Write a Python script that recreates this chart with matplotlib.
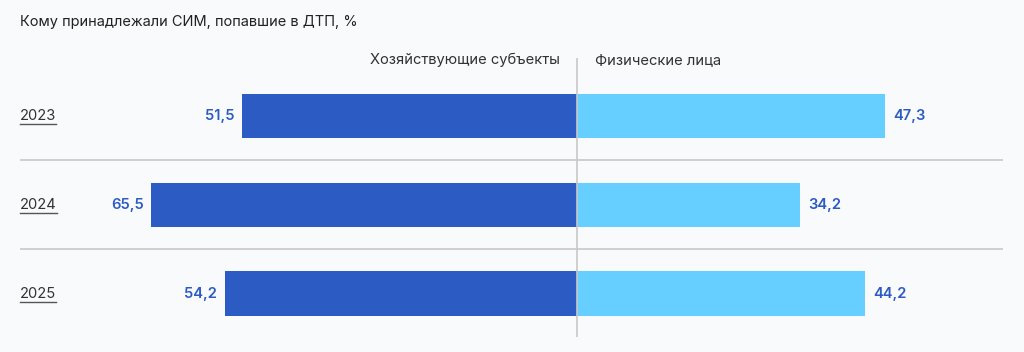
import matplotlib.pyplot as plt
import matplotlib.transforms as mtransforms
from matplotlib.lines import Line2D

plt.rcParams['font.family'] = ['Inter', 'DejaVu Sans']

# data
years = ['2023', '2024', '2025']
business = [51.5, 65.5, 54.2]
persons = [47.3, 34.2, 44.2]
title = 'Кому принадлежали СИМ, попавшие в ДТП, %'
left_label = 'Хозяйствующие субъекты'
right_label = 'Физические лица'

dark = '#2d5bc4'
light = '#66cfff'
bg = '#f9fafb'

fig = plt.figure(figsize=(10.24, 3.52), dpi=100, facecolor=bg)
ax = fig.add_axes([20 / 1024, 1 - 337 / 352, (1003 - 20) / 1024, (337 - 58) / 352])
ax.set_facecolor(bg)

ypos = list(range(len(years)))
ax.barh(ypos, [-v for v in business], height=0.5, color=dark)
ax.barh(ypos, persons, height=0.5, color=light)

ax.set_xlim(-85.7, 65.5)
ax.set_ylim(2.49, -0.654)

# separators and center line
for s in [0.5, 1.5]:
    ax.axhline(s, color='#c8c8c8', lw=1.2)
ax.axvline(0, color='#c8c8c8', lw=1.2)

for y, b, p in zip(ypos, business, persons):
    ax.annotate(f'{b:.1f}'.replace('.', ','), (-b, y), xytext=(-5.5, 0), textcoords='offset points',
                ha='right', va='center', color=dark, fontsize=10.6, fontweight='semibold')
    ax.annotate(f'{p:.1f}'.replace('.', ','), (p, y), xytext=(6, 0), textcoords='offset points',
                ha='left', va='center', color=dark, fontsize=10.6, fontweight='semibold')

trans = mtransforms.blended_transform_factory(ax.transAxes, ax.transData)
year_texts = []
for y, yr in zip(ypos, years):
    t = ax.text(0, y, yr, transform=trans, ha='left', va='center', color='#333333', fontsize=10.6)
    year_texts.append(t)

ax.annotate(left_label, (0, -0.63), xytext=(-12.5, 0), textcoords='offset points',
            ha='right', va='center', color='#333333', fontsize=10.6)
ax.annotate(right_label, (0, -0.63), xytext=(12.5, 0), textcoords='offset points',
            ha='left', va='center', color='#333333', fontsize=10.6)

fig.text(20 / 1024, 1 - 22 / 352, title, ha='left', va='center', color='#222222', fontsize=10.5)

for sp in ax.spines.values():
    sp.set_visible(False)
ax.set_xticks([])
ax.set_yticks([])

# underline the year labels
fig.canvas.draw()
r = fig.canvas.get_renderer()
for t in year_texts:
    bb = t.get_window_extent(r).transformed(fig.transFigure.inverted())
    fig.add_artist(Line2D([bb.x0, bb.x1], [bb.y0 - 1 / 352, bb.y0 - 1 / 352],
                          color='#555555', lw=1, transform=fig.transFigure))

fig.savefig('out.png', dpi=100, facecolor=bg)
